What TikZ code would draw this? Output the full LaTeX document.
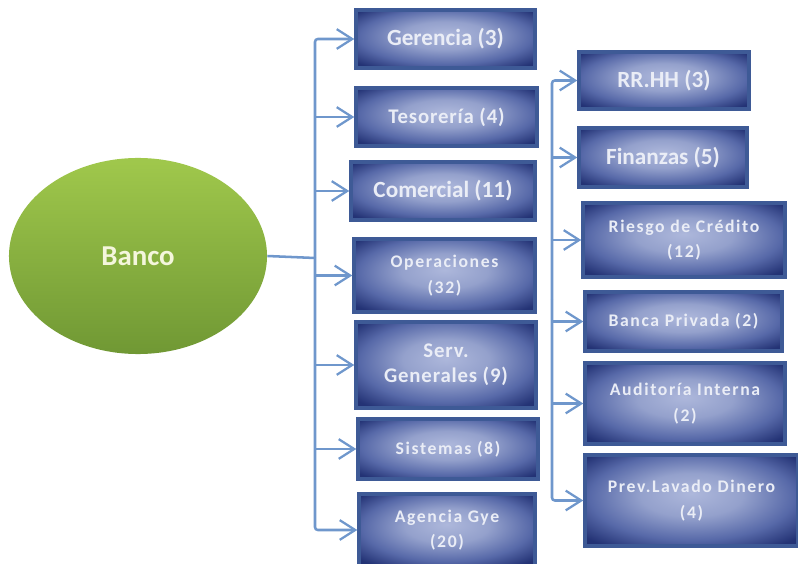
\documentclass[tikz,border=0pt]{standalone}
\usepackage{fontspec}
\setmainfont{Carlito}
\usetikzlibrary{arrows.meta,shapes.geometric}

\definecolor{linkblue}{RGB}{111,151,204}
\definecolor{boxrim}{RGB}{62,90,150}
\definecolor{boxtext}{RGB}{234,237,246}
\definecolor{leaftop}{RGB}{160,200,76}
\definecolor{leafbot}{RGB}{112,152,52}
\definecolor{bancotext}{RGB}{244,246,220}

\pgfdeclareradialshading{deptshade}{\pgfpoint{0bp}{4bp}}{%
  rgb(0bp)=(0.68,0.72,0.86);
  rgb(12bp)=(0.58,0.63,0.80);
  rgb(24bp)=(0.34,0.41,0.66);
  rgb(33bp)=(0.14,0.20,0.46);
  rgb(50bp)=(0.10,0.15,0.40)}

\tikzset{
  dept/.style={rectangle, draw=boxrim, line width=2.4pt, shading=deptshade,
    text=boxtext, align=center, font=\bfseries\fontsize{16.5}{18}\selectfont},
  small/.style={font=\bfseries\fontsize{12.6}{18}\selectfont\addfontfeature{LetterSpace=9}},
  mid/.style={font=\bfseries\fontsize{14.8}{18}\selectfont\addfontfeature{LetterSpace=4}},
  conn/.style={draw=linkblue, line width=1.8pt},
  tip/.style={-{Straight Barb[length=11pt,width=14pt,line width=1.6pt]}}
}

\begin{document}
\begin{tikzpicture}[x=0.025cm,y=-0.025cm]
\useasboundingbox (0,0) rectangle (798,564);

% root
\node[ellipse, minimum width=6.45cm, minimum height=4.9cm, top color=leaftop, bottom color=leafbot,
  text=bancotext, font=\bfseries\fontsize{20.5}{22}\selectfont] (Banco) at (138,256) {Banco};

% first column
\node[dept, minimum width=4.475cm, minimum height=1.45cm] (Gerencia) at (445.5,39) {Gerencia (3)};
\node[dept, mid, minimum width=4.525cm, minimum height=1.45cm] (Tesoreria) at (446.5,117) {Tesorería (4)};
\node[dept, minimum width=4.6cm, minimum height=1.45cm] (Comercial) at (443,191) {Comercial (11)};
\node[dept, small, minimum width=4.525cm, minimum height=1.825cm] (Operaciones) at (444.5,275.5) {Operaciones\\(32)};
\node[dept, mid, minimum width=4.5cm, minimum height=2.15cm] (Serv) at (446,365) {Serv.\\Generales (9)};
\node[dept, small, minimum width=4.5cm, minimum height=1.5cm] (Sistemas) at (448,449) {Sistemas (8)};
\node[dept, small, minimum width=4.4cm, minimum height=1.8cm] (Agencia) at (447,530) {Agencia Gye\\(20)};

% second column
\node[dept, minimum width=4.25cm, minimum height=1.425cm] (RRHH) at (664,80.5) {RR.HH (3)};
\node[dept, minimum width=4.2cm, minimum height=1.475cm] (Finanzas) at (663,157.5) {Finanzas (5)};
\node[dept, small, minimum width=5.05cm, minimum height=1.85cm] (Riesgo) at (684,240) {Riesgo de Crédito\\(12)};
\node[dept, small, minimum width=4.925cm, minimum height=1.475cm] (Banca) at (683.5,321.5) {Banca Privada (2)};
\node[dept, small, minimum width=5cm, minimum height=2.025cm] (Auditoria) at (685,403.5) {Auditoría Interna\\(2)};
\node[dept, small, minimum width=5.325cm, minimum height=2.275cm] (Prev) at (691.5,500.5) {Prev.Lavado Dinero\\(4)};

% left tree
\coordinate (L) at (315,258);
\draw[conn] (Banco.east) -- (L);
\draw[conn, tip, rounded corners=2pt] (L) |- (Gerencia.west);
\draw[conn, tip, rounded corners=2pt] (L) |- (Agencia.west);
\foreach \n in {Tesoreria,Comercial,Operaciones,Serv,Sistemas}
  \draw[conn, tip] (\n.west -| L) -- (\n.west);

% right tree
\coordinate (R) at (552,300);
\draw[conn, tip, rounded corners=2pt] (R) |- (RRHH.west);
\draw[conn, tip, rounded corners=2pt] (R) |- (Prev.west);
\foreach \n in {Finanzas,Riesgo,Banca,Auditoria}
  \draw[conn, tip] (\n.west -| R) -- (\n.west);
\end{tikzpicture}
\end{document}
